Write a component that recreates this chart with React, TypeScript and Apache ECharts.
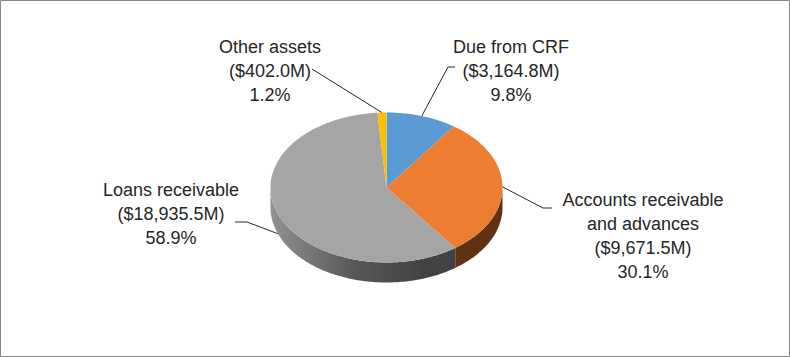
import React, { useEffect, useRef } from 'react';
import * as echarts from 'echarts';

// ---- data ----
const categories = ['Due from CRF', 'Accounts receivable\nand advances', 'Loans receivable', 'Other assets'];
const values = [3164.8, 9671.5, 18935.5, 402.0];

// ---- styles / layout ----
const topColors = ['#5B9BD5', '#ED7D31', '#A5A5A5', '#FFC000'];
const sideColors = ['#2E5C87', '#5F3213', 'gradient', '#8A6A00'];
const labelCenters = [[511, 71], [643, 236], [171, 214], [270, 71]];
const labelLeads = [
  [[455, 67], [448, 67]],
  [[552, 208], [543, 208]],
  [[235, 222], [247, 222]],
  [[312, 69]],
];
const CX = 386.5;
const CY = 187.5;
const RX = 116;
const RY = 75;
const DEPTH = 20;
const TEXT_COLOR = '#262626';

function fmt(v: number) {
  return '($' + v.toLocaleString('en-US', { minimumFractionDigits: 1, maximumFractionDigits: 1 }) + 'M)';
}

export default function App() {
  const ref = useRef<HTMLDivElement>(null);

  useEffect(() => {
    document.body.style.margin = '0';
    if (!ref.current) return;
    const chart = echarts.init(ref.current, undefined, { renderer: 'svg' });
    const total = values.reduce((a, b) => a + b, 0);
    const grayGrad = new echarts.graphic.LinearGradient(
      270, 0, 425, 0,
      [
        { offset: 0, color: '#929292' },
        { offset: 0.55, color: '#575757' },
        { offset: 1, color: '#424242' },
      ],
      true
    );

    const renderItem = (params: any, api: any) => {
      const i = params.dataIndex;
      let before = 0;
      for (let k = 0; k < i; k++) before += values[k];
      const v = api.value(0);
      const a0 = (before / total) * Math.PI * 2;
      const a1 = ((before + v) / total) * Math.PI * 2;
      const pt = (a: number, dy = 0) => [CX + RX * Math.sin(a), CY - RY * Math.cos(a) + dy];
      const arc = (s: number, e: number, dy = 0) => {
        const n = Math.max(2, Math.ceil((e - s) / (Math.PI / 180)));
        const pts: number[][] = [];
        for (let j = 0; j <= n; j++) pts.push(pt(s + ((e - s) * j) / n, dy));
        return pts;
      };
      const children: any[] = [];
      const s = Math.max(a0, Math.PI / 2);
      const e = Math.min(a1, (3 * Math.PI) / 2);
      if (e > s) {
        const top = arc(s, e);
        const bot = arc(s, e, DEPTH).reverse();
        children.push({
          type: 'polygon',
          shape: { points: top.concat(bot) },
          style: { fill: sideColors[i] === 'gradient' ? grayGrad : sideColors[i] },
        });
      }
      children.push({
        type: 'polygon',
        shape: { points: [[CX, CY]].concat(arc(a0, a1)) },
        style: { fill: topColors[i] },
      });
      const m = (a0 + a1) / 2;
      const p = pt(m, Math.cos(m) < 0 ? DEPTH : 0);
      children.push({
        type: 'polyline',
        shape: { points: (labelLeads[i] as number[][]).concat([p]) },
        style: { stroke: TEXT_COLOR, lineWidth: 1, fill: null },
      });
      const pct = ((v / total) * 100).toFixed(1) + '%';
      children.push({
        type: 'text',
        style: {
          text: categories[i] + '\n' + fmt(v) + '\n' + pct,
          x: labelCenters[i][0],
          y: labelCenters[i][1],
          align: 'center',
          verticalAlign: 'middle',
          fill: TEXT_COLOR,
          fontSize: 18,
          fontFamily: 'Liberation Sans, Arial, sans-serif',
          lineHeight: 24,
        },
      });
      return { type: 'group', children };
    };

    chart.setOption({
      animation: false,
      backgroundColor: '#ffffff',
      graphic: [
        {
          type: 'rect',
          shape: { x: 0.5, y: 0.5, width: 789, height: 356 },
          style: { fill: 'none', stroke: '#868686', lineWidth: 1 },
          z: 100,
        },
      ],
      series: [
        {
          type: 'custom',
          coordinateSystem: 'none',
          silent: true,
          renderItem,
          data: values.map((v, i) => ({ value: [v], name: categories[i] })),
        },
      ],
    });
    return () => chart.dispose();
  }, []);

  return <div ref={ref} style={{ width: 790, height: 357 }} />;
}
